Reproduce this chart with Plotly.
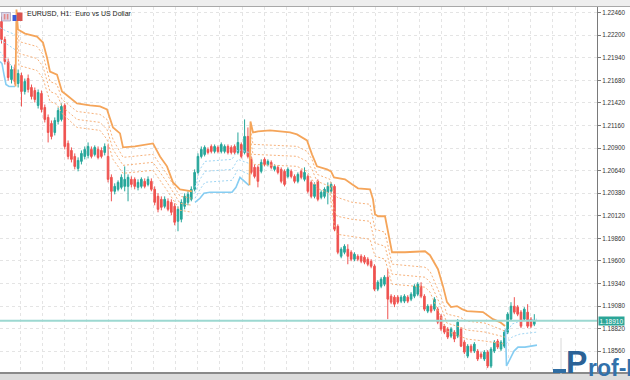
import plotly.graph_objects as go

# ---------------- data (EURUSD H1 candles) ----------------
bars = list(range(161))

opens = [1.22357, 1.22150, 1.21897, 1.21690, 1.21816, 1.21644, 1.21736, 1.21552, 1.21701, 1.21598,
         1.21563, 1.21391, 1.21529, 1.21368, 1.21253, 1.21184, 1.21080, 1.21207, 1.21230, 1.21391,
         1.20954, 1.20873, 1.20804, 1.20666, 1.20747, 1.20804, 1.20816, 1.20885, 1.20827, 1.20885,
         1.20873, 1.20850, 1.20804, 1.20563, 1.20402, 1.20425, 1.20448, 1.20459, 1.20459, 1.20540,
         1.20540, 1.20448, 1.20459, 1.20517, 1.20482, 1.20517, 1.20425, 1.20344, 1.20310, 1.20229,
         1.20287, 1.20275, 1.20229, 1.20057, 1.20080, 1.20229, 1.20275, 1.20310, 1.20425, 1.20620,
         1.20804, 1.20827, 1.20885, 1.20919, 1.20862, 1.20908, 1.20862, 1.20862, 1.20919, 1.20908,
         1.20919, 1.20850, 1.20942, 1.20850, 1.21034, 1.20770, 1.20678, 1.20678, 1.20632, 1.20770,
         1.20712, 1.20735, 1.20655, 1.20678, 1.20655, 1.20632, 1.20574, 1.20632, 1.20574, 1.20517,
         1.20632, 1.20540, 1.20574, 1.20505, 1.20344, 1.20517, 1.20333, 1.20344, 1.20390, 1.20402,
         1.20459, 1.19999, 1.19654, 1.19700, 1.19735, 1.19700, 1.19620, 1.19654, 1.19654, 1.19643,
         1.19620, 1.19597, 1.19539, 1.19275, 1.19309, 1.19332, 1.19413, 1.19194, 1.19183, 1.19183,
         1.19137, 1.19137, 1.19183, 1.19160, 1.19194, 1.19217, 1.19309, 1.19194, 1.19022, 1.19079,
         1.19045, 1.19045, 1.18964, 1.18849, 1.18815, 1.18734, 1.18780, 1.18734, 1.18815, 1.18665,
         1.18504, 1.18619, 1.18562, 1.18562, 1.18527, 1.18470, 1.18550, 1.18389, 1.18562, 1.18677,
         1.18585, 1.18619, 1.18780, 1.18930, 1.19079, 1.19068, 1.19010, 1.18930, 1.19010, 1.18930,
         1.18872]

highs = [1.22414, 1.22184, 1.21931, 1.21851, 1.21862, 1.21805, 1.21770, 1.21701, 1.21747, 1.21632,
         1.21598, 1.21575, 1.21563, 1.21402, 1.21287, 1.21218, 1.21253, 1.21368, 1.21414, 1.21414,
         1.20988, 1.20908, 1.20839, 1.20793, 1.20873, 1.20919, 1.20965, 1.20919, 1.20931, 1.20919,
         1.20908, 1.20954, 1.20942, 1.20597, 1.20494, 1.20528, 1.20597, 1.20689, 1.20597, 1.20574,
         1.20563, 1.20540, 1.20563, 1.20551, 1.20574, 1.20551, 1.20459, 1.20379, 1.20344, 1.20344,
         1.20321, 1.20310, 1.20264, 1.20229, 1.20310, 1.20379, 1.20402, 1.20459, 1.20655, 1.20839,
         1.20919, 1.20931, 1.20908, 1.20942, 1.20942, 1.20931, 1.20965, 1.20942, 1.20942, 1.20931,
         1.20942, 1.21080, 1.20965, 1.21230, 1.21138, 1.20804, 1.20712, 1.20701, 1.20770, 1.20793,
         1.20770, 1.20758, 1.20712, 1.20701, 1.20678, 1.20655, 1.20678, 1.20655, 1.20597, 1.20620,
         1.20655, 1.20678, 1.20597, 1.20528, 1.20505, 1.20540, 1.20413, 1.20448, 1.20505, 1.20505,
         1.20482, 1.20022, 1.19758, 1.19792, 1.19792, 1.19723, 1.19700, 1.19677, 1.19677, 1.19666,
         1.19643, 1.19620, 1.19562, 1.19378, 1.19413, 1.19436, 1.19505, 1.19217, 1.19206, 1.19206,
         1.19206, 1.19217, 1.19206, 1.19240, 1.19332, 1.19355, 1.19355, 1.19217, 1.19102, 1.19102,
         1.19183, 1.19068, 1.18987, 1.18872, 1.18838, 1.18838, 1.18803, 1.18930, 1.18838, 1.18688,
         1.18642, 1.18642, 1.18665, 1.18585, 1.18550, 1.18573, 1.18573, 1.18608, 1.18688, 1.18700,
         1.18688, 1.18803, 1.19010, 1.19125, 1.19183, 1.19091, 1.19033, 1.19068, 1.19102, 1.18953,
         1.18987]

lows = [1.22104, 1.21862, 1.21678, 1.21644, 1.21632, 1.21598, 1.21379, 1.21517, 1.21540, 1.21460,
        1.21425, 1.21356, 1.21310, 1.21195, 1.20965, 1.21000, 1.21046, 1.21172, 1.21207, 1.20885,
        1.20770, 1.20735, 1.20655, 1.20632, 1.20712, 1.20770, 1.20781, 1.20781, 1.20804, 1.20770,
        1.20781, 1.20816, 1.20505, 1.20287, 1.20367, 1.20402, 1.20425, 1.20402, 1.20287, 1.20448,
        1.20425, 1.20413, 1.20436, 1.20436, 1.20459, 1.20402, 1.20241, 1.20160, 1.20183, 1.20206,
        1.20172, 1.20126, 1.20011, 1.19942, 1.20045, 1.20195, 1.20241, 1.20287, 1.20402, 1.20597,
        1.20781, 1.20804, 1.20827, 1.20839, 1.20839, 1.20839, 1.20839, 1.20839, 1.20827, 1.20827,
        1.20827, 1.20827, 1.20781, 1.20827, 1.20781, 1.20597, 1.20551, 1.20448, 1.20609, 1.20689,
        1.20689, 1.20655, 1.20632, 1.20597, 1.20494, 1.20459, 1.20551, 1.20551, 1.20494, 1.20494,
        1.20540, 1.20517, 1.20379, 1.20321, 1.20321, 1.20287, 1.20310, 1.20321, 1.20252, 1.20379,
        1.19942, 1.19677, 1.19631, 1.19677, 1.19562, 1.19597, 1.19597, 1.19597, 1.19574, 1.19562,
        1.19539, 1.19516, 1.19252, 1.19252, 1.19286, 1.19309, 1.18930, 1.19102, 1.19068, 1.19102,
        1.19114, 1.19114, 1.19114, 1.19137, 1.19171, 1.19194, 1.19171, 1.19022, 1.18999, 1.18999,
        1.19022, 1.18872, 1.18792, 1.18757, 1.18700, 1.18711, 1.18665, 1.18711, 1.18608, 1.18527,
        1.18481, 1.18539, 1.18539, 1.18447, 1.18470, 1.18447, 1.18366, 1.18366, 1.18539, 1.18585,
        1.18562, 1.18596, 1.18757, 1.18907, 1.18987, 1.18964, 1.18826, 1.18907, 1.18826, 1.18826,
        1.18849]

closes = [1.22150, 1.21897, 1.21713, 1.21805, 1.21667, 1.21759, 1.21552, 1.21667, 1.21575, 1.21494,
          1.21460, 1.21540, 1.21345, 1.21230, 1.21080, 1.21034, 1.21218, 1.21333, 1.21379, 1.20919,
          1.20804, 1.20770, 1.20689, 1.20758, 1.20839, 1.20885, 1.20919, 1.20804, 1.20908, 1.20793,
          1.20804, 1.20919, 1.20540, 1.20402, 1.20459, 1.20505, 1.20563, 1.20540, 1.20563, 1.20482,
          1.20459, 1.20505, 1.20540, 1.20459, 1.20540, 1.20425, 1.20275, 1.20195, 1.20218, 1.20310,
          1.20195, 1.20160, 1.20045, 1.20195, 1.20275, 1.20344, 1.20367, 1.20425, 1.20620, 1.20804,
          1.20885, 1.20908, 1.20850, 1.20862, 1.20919, 1.20862, 1.20942, 1.20919, 1.20850, 1.20850,
          1.20850, 1.20965, 1.20804, 1.21034, 1.20804, 1.20620, 1.20574, 1.20517, 1.20735, 1.20712,
          1.20747, 1.20678, 1.20689, 1.20620, 1.20517, 1.20482, 1.20655, 1.20574, 1.20517, 1.20597,
          1.20563, 1.20620, 1.20402, 1.20344, 1.20482, 1.20310, 1.20390, 1.20425, 1.20459, 1.20482,
          1.19965, 1.19700, 1.19735, 1.19769, 1.19654, 1.19620, 1.19677, 1.19620, 1.19597, 1.19585,
          1.19562, 1.19539, 1.19275, 1.19355, 1.19390, 1.19413, 1.19160, 1.19125, 1.19102, 1.19125,
          1.19183, 1.19194, 1.19137, 1.19217, 1.19309, 1.19332, 1.19194, 1.19045, 1.19079, 1.19022,
          1.19160, 1.18895, 1.18815, 1.18780, 1.18723, 1.18815, 1.18700, 1.18895, 1.18619, 1.18550,
          1.18619, 1.18562, 1.18642, 1.18470, 1.18493, 1.18550, 1.18389, 1.18585, 1.18665, 1.18608,
          1.18665, 1.18780, 1.18987, 1.19079, 1.19010, 1.18987, 1.18849, 1.19045, 1.18849, 1.18849,
          1.18910]

current_price = 1.18910
price_label = "1.18910"
title_text = "EURUSD, H1:&nbsp; Euro vs US Dollar"
watermark_head = "P"
watermark_tail = "rof-FX"

# trailing-stop indicator: lower (blue) segments, bar position / price
sup1_x = [-0.45, 0.15, 0.75, 1.35, 2.25, 4.05]
sup1_y = [1.21897, 1.21874, 1.21747, 1.21632, 1.21610, 1.21610]
sup2_x = [58.11, 59.61, 60.81, 62.61, 69.22, 70.42, 71.62, 72.82, 74.32]
sup2_y = [1.20276, 1.20322, 1.20379, 1.20391, 1.20391, 1.20448, 1.20563, 1.20517, 1.20471]
sup3_x = [151.35, 151.65, 152.70, 153.90, 155.10, 157.20, 160.80]
sup3_y = [1.18815, 1.18390, 1.18470, 1.18562, 1.18608, 1.18608, 1.18631]

# upper (orange) segments
res1_x = [4.20, 4.50, 4.95, 7.06, 10.66, 12.46, 13.66, 14.56, 16.67, 18.17, 19.37, 20.57, 22.67,
          26.58, 29.58, 31.68, 33.48, 35.59, 36.49, 40.09, 45.50, 47.60, 49.70, 51.50, 53.60, 57.21]
res1_y = [1.21610, 1.22495, 1.22265, 1.22219, 1.22184, 1.22116, 1.21943, 1.21782, 1.21747, 1.21552,
          1.21517, 1.21483, 1.21414, 1.21391, 1.21380, 1.21345, 1.21138, 1.21069, 1.20908, 1.20919,
          1.20954, 1.20804, 1.20690, 1.20505, 1.20425, 1.20402]
res2_x = [74.47, 74.77, 75.53, 77.03, 80.63, 86.64, 88.74, 90.24, 91.74, 93.24, 94.74, 97.75, 98.95,
          99.85, 103.15, 105.26, 107.06, 110.66, 111.56, 112.16, 113.06, 115.17, 116.07, 117.27,
          121.17, 127.18, 128.68, 131.08, 132.58, 133.78, 134.98, 136.79, 138.29, 139.79, 144.59,
          147.60, 149.70, 151.20]
res2_y = [1.20471, 1.21207, 1.21080, 1.21092, 1.21103, 1.21080, 1.21058, 1.21023, 1.20989, 1.20828,
          1.20690, 1.20655, 1.20632, 1.20563, 1.20540, 1.20483, 1.20437, 1.20425, 1.20310, 1.20138,
          1.20115, 1.20115, 1.19942, 1.19700, 1.19700, 1.19712, 1.19666, 1.19505, 1.19310, 1.19126,
          1.19068, 1.19080, 1.19045, 1.19022, 1.19011, 1.18930, 1.18896, 1.18850]

# dotted intermediate levels, upper segments
lvl1_x = [4.50, 5.26, 10.66, 12.46, 14.56, 16.67, 18.17, 22.67, 29.58, 31.68, 33.48, 36.49, 45.50,
          49.70, 53.60, 57.21]
lvl1_a = [1.22380, 1.22127, 1.22070, 1.21978, 1.21667, 1.21633, 1.21460, 1.21322, 1.21288, 1.21230,
          1.21000, 1.20793, 1.20828, 1.20598, 1.20345, 1.20322]
lvl1_b = [1.22265, 1.21989, 1.21932, 1.21840, 1.21552, 1.21518, 1.21380, 1.21230, 1.21196, 1.21115,
          1.20885, 1.20701, 1.20736, 1.20506, 1.20264, 1.20241]
lvl1_c = [1.22150, 1.21851, 1.21794, 1.21702, 1.21437, 1.21403, 1.21299, 1.21138, 1.21104, 1.21000,
          1.20770, 1.20609, 1.20644, 1.20414, 1.20184, 1.20161]
lvl2_x = [74.77, 75.53, 88.74, 91.74, 93.24, 94.74, 98.65, 99.85, 100.75, 105.26, 110.66, 112.16,
          115.17, 117.27, 127.18, 128.68, 131.68, 133.78, 137.69, 139.79, 145.20, 151.20]
lvl2_a = [1.21115, 1.20943, 1.20920, 1.20862, 1.20770, 1.20598, 1.20540, 1.20368, 1.20333, 1.20276,
          1.20253, 1.19965, 1.19931, 1.19563, 1.19528, 1.19482, 1.19218, 1.18988, 1.18953, 1.18907,
          1.18884, 1.18792]
lvl2_b = [1.21000, 1.20828, 1.20805, 1.20747, 1.20655, 1.20517, 1.20460, 1.20195, 1.20115, 1.20080,
          1.20057, 1.19804, 1.19770, 1.19448, 1.19413, 1.19356, 1.19103, 1.18884, 1.18838, 1.18804,
          1.18781, 1.18723]
lvl2_c = [1.20885, 1.20713, 1.20690, 1.20632, 1.20540, 1.20437, 1.20379, 1.20023, 1.19908, 1.19885,
          1.19850, 1.19655, 1.19620, 1.19333, 1.19298, 1.19241, 1.18988, 1.18792, 1.18735, 1.18700,
          1.18677, 1.18643]

# dotted intermediate levels, lower segments
slv1_x = [-0.45, 1.35, 4.05]
slv1_a = [1.22288, 1.22250, 1.22208]
slv1_b = [1.22150, 1.22100, 1.22035]
slv1_c = [1.22012, 1.21920, 1.21805]
slv2_x = [58.11, 59.61, 61.11, 69.22, 71.02, 74.32]
slv2_a = [1.20448, 1.20655, 1.20747, 1.20770, 1.20885, 1.20850]
slv2_b = [1.20379, 1.20540, 1.20632, 1.20655, 1.20770, 1.20724]
slv2_c = [1.20322, 1.20425, 1.20506, 1.20529, 1.20655, 1.20598]
slv3_x = [151.50, 153.30, 155.71, 160.81]
slv3_a = [1.18758, 1.18873, 1.18907, 1.18930]
slv3_b = [1.18643, 1.18723, 1.18758, 1.18781]

# ---------------- styling ----------------
UP = "#26A69A"
DOWN = "#EF5350"
ORANGE = "#F5A55A"
ORANGE_DOT = "#F7B27C"
BLUE = "#86CDF2"
BLUE_DOT = "#9FD6F4"

# plot area geometry (pixels)
W, H = 630, 380
PL, PR, PT, PB = 0, 597, 7, 372


def px(x):
    return (x - PL) / (PR - PL)


def py(y):
    return (PB - y) / (PB - PT)


def joined(*segs):
    xs, ys = [], []
    for sx, sy in segs:
        if xs:
            xs.append(None)
            ys.append(None)
        xs += list(sx)
        ys += list(sy)
    return xs, ys


fig = go.Figure()

fig.add_trace(go.Candlestick(
    x=bars, open=opens, high=highs, low=lows, close=closes,
    increasing=dict(line=dict(color=UP, width=1), fillcolor=UP),
    decreasing=dict(line=dict(color=DOWN, width=1), fillcolor=DOWN),
    whiskerwidth=0, hoverinfo="skip", showlegend=False,
))

# dotted levels
for segs, color in [
    ([(lvl1_x, lvl1_a), (lvl2_x, lvl2_a)], ORANGE_DOT),
    ([(lvl1_x, lvl1_b), (lvl2_x, lvl2_b)], ORANGE_DOT),
    ([(lvl1_x, lvl1_c), (lvl2_x, lvl2_c)], ORANGE_DOT),
    ([(slv1_x, slv1_a), (slv2_x, slv2_a), (slv3_x, slv3_a)], BLUE_DOT),
    ([(slv1_x, slv1_b), (slv2_x, slv2_b), (slv3_x, slv3_b)], BLUE_DOT),
    ([(slv1_x, slv1_c), (slv2_x, slv2_c)], BLUE_DOT),
]:
    xs, ys = joined(*segs)
    fig.add_trace(go.Scatter(x=xs, y=ys, mode="lines", connectgaps=False,
                             line=dict(color=color, width=1, dash="2px,2px"),
                             hoverinfo="skip", showlegend=False))

xs, ys = joined((sup1_x, sup1_y), (sup2_x, sup2_y), (sup3_x, sup3_y))
fig.add_trace(go.Scatter(x=xs, y=ys, mode="lines", line=dict(color=BLUE, width=1.6),
                         hoverinfo="skip", showlegend=False))
xs, ys = joined((res1_x, res1_y), (res2_x, res2_y))
fig.add_trace(go.Scatter(x=xs, y=ys, mode="lines", line=dict(color=ORANGE, width=1.8),
                         hoverinfo="skip", showlegend=False))

shapes = [
    # current price line
    dict(type="line", xref="paper", yref="y", x0=0, x1=1, y0=current_price, y1=current_price,
         line=dict(color="#9CD8D1", width=2), layer="above"),
    # window frame top
    dict(type="rect", xref="paper", yref="paper", x0=px(0), x1=px(W), y0=py(7), y1=py(0),
         fillcolor="#EEEEEE", line=dict(width=0), layer="above"),
    dict(type="line", xref="paper", yref="paper", x0=px(0), x1=px(W), y0=py(6.5), y1=py(6.5),
         line=dict(color="#A8A8A8", width=1.2), layer="above"),
    # window frame bottom
    dict(type="rect", xref="paper", yref="paper", x0=px(0), x1=px(W), y0=py(H), y1=py(372.5),
         fillcolor="#DCDCDC", line=dict(width=0), layer="above"),
    dict(type="line", xref="paper", yref="paper", x0=px(0), x1=px(W), y0=py(373), y1=py(373),
         line=dict(color="#8A8A8A", width=2), layer="above"),
    # toolbar icons
    dict(type="rect", xref="paper", yref="paper", x0=px(1.5), x1=px(10.5), y0=py(21), y1=py(12.5),
         fillcolor="#DCD6E8", line=dict(color="#9890B0", width=0.6), layer="above"),
    dict(type="rect", xref="paper", yref="paper", x0=px(3.8), x1=px(5.4), y0=py(19.5), y1=py(14),
         fillcolor="#E48888", line=dict(width=0), layer="above"),
    dict(type="rect", xref="paper", yref="paper", x0=px(6.8), x1=px(8.4), y0=py(19.5), y1=py(14),
         fillcolor="#E48888", line=dict(width=0), layer="above"),
    dict(type="rect", xref="paper", yref="paper", x0=px(12.5), x1=px(16.5), y0=py(21), y1=py(15),
         fillcolor="#3A5BD9", line=dict(width=0), layer="above"),
    dict(type="rect", xref="paper", yref="paper", x0=px(17), x1=px(22.5), y0=py(21), y1=py(12.5),
         fillcolor="#D9534F", line=dict(width=0), layer="above"),
    # watermark accents
    dict(type="line", xref="paper", yref="paper", x0=px(561), x1=px(561), y0=py(380), y1=py(338),
         line=dict(color="#D8D8D8", width=1), layer="above"),
    dict(type="rect", xref="paper", yref="paper", x0=px(553), x1=px(566), y0=py(373), y1=py(369),
         fillcolor="#2F6DA3", line=dict(width=0), layer="above"),
]

annotations = [
    dict(text=title_text, xref="paper", yref="paper", x=px(25), y=py(13.5),
         xanchor="left", yanchor="middle", showarrow=False,
         font=dict(family="Liberation Sans", size=7, color="#1A1A1A")),
    dict(text=price_label, xref="paper", yref="y", x=1, y=current_price,
         xanchor="left", yanchor="middle", showarrow=False, xshift=1,
         bgcolor="#2BA597", borderpad=0.5,
         font=dict(family="Liberation Sans", size=6.5, color="#FFFFFF")),
    dict(text="<b>" + watermark_head + "</b>", xref="paper", yref="paper", x=px(564), y=py(382),
         xanchor="left", yanchor="bottom", showarrow=False,
         font=dict(family="Liberation Sans", size=32, color="#2B6296")),
    dict(text="<b>" + watermark_tail + "</b>", xref="paper", yref="paper", x=px(586), y=py(383),
         xanchor="left", yanchor="bottom", showarrow=False,
         font=dict(family="Liberation Sans", size=23, color="#3271AB")),
]

fig.update_layout(
    width=W, height=H,
    margin=dict(l=PL, r=W - PR, t=PT, b=H - PB, pad=0, autoexpand=False),
    paper_bgcolor="white", plot_bgcolor="white",
    showlegend=False,
    shapes=shapes, annotations=annotations,
    xaxis=dict(range=[-0.45, 178.83], showticklabels=False, ticks="",
               showgrid=True, gridcolor="#E4E4E4", griddash="3px,3px", gridwidth=1,
               tick0=5.56, dtick=6.667, zeroline=False, showline=False,
               rangeslider=dict(visible=False), fixedrange=True),
    yaxis=dict(range=[1.18321, 1.22525], side="right", tick0=1.1856, dtick=0.0026,
               tickformat=".5f", showgrid=True, gridcolor="#E4E4E4", griddash="3px,3px",
               gridwidth=1, zeroline=False, showline=True, linecolor="#7A7A7A", linewidth=1,
               ticks="outside", ticklen=3, tickcolor="#7A7A7A", tickwidth=1,
               tickfont=dict(family="Liberation Sans", size=6.3, color="#333333"),
               fixedrange=True),
)

fig.write_html("out.html", config={"displayModeBar": False, "staticPlot": True})

# remove the browser's default page margin so the figure sits at the window origin
with open("out.html", "r", encoding="utf-8") as f:
    html = f.read()
html = html.replace("<head>", "<head><style>html,body{margin:0;padding:0;overflow:hidden;}</style>", 1)
with open("out.html", "w", encoding="utf-8") as f:
    f.write(html)
